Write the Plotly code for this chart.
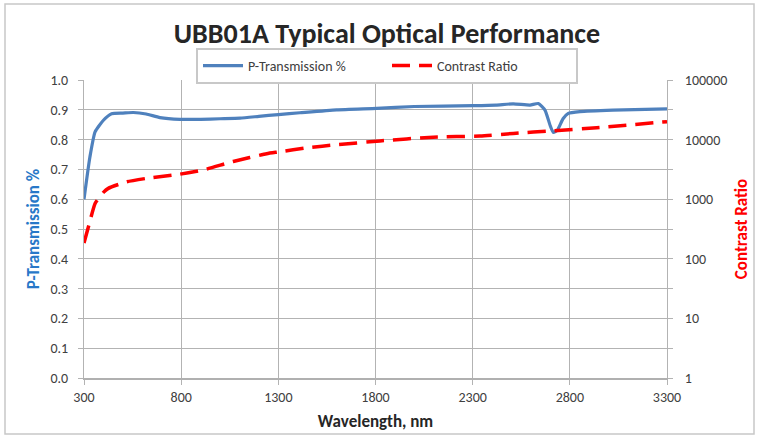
import plotly.graph_objects as go

# P-Transmission data
wl_t = [300, 330, 357, 400, 442, 500, 554, 620, 691, 794, 900, 1000, 1103, 1200, 1300,
        1411, 1600, 1806, 2000, 2303, 2420, 2509, 2595, 2638, 2672, 2700, 2715, 2736,
        2765, 2792, 2852, 3022, 3300]
p_trans = [0.600, 0.740, 0.826, 0.865, 0.887, 0.889, 0.891, 0.886, 0.874, 0.868, 0.868,
           0.870, 0.872, 0.878, 0.884, 0.890, 0.900, 0.905, 0.911, 0.914, 0.916, 0.920,
           0.916, 0.921, 0.899, 0.845, 0.824, 0.832, 0.870, 0.888, 0.894, 0.899, 0.903]

# Contrast ratio data
wl_c = [300, 330, 357, 400, 425, 520, 623, 794, 914, 1068, 1240, 1300, 1450, 1600, 1823,
        2097, 2338, 2509, 2715, 2938, 3300]
contrast = [184, 420, 850, 1300, 1520, 1960, 2240, 2630, 3090, 4300, 5800, 6200, 7300, 8200,
            9500, 11000, 11500, 12700, 14100, 15800, 20000]

x_ticks = [300, 800, 1300, 1800, 2300, 2800, 3300]
y_ticks = [0.0, 0.1, 0.2, 0.3, 0.4, 0.5, 0.6, 0.7, 0.8, 0.9, 1.0]
cr_ticks = [1, 10, 100, 1000, 10000, 100000]

FONT = "Carlito, Liberation Sans Narrow, Noto Sans, sans-serif"
TICKCOL = "#404040"
GRID = "#b3b3b3"

fig = go.Figure()
fig.add_trace(go.Scatter(
    x=wl_t, y=p_trans, name="P-Transmission %", mode="lines",
    line=dict(color="#4F81BD", width=3.2, shape="spline", smoothing=0.5),
    yaxis="y"))
fig.add_trace(go.Scatter(
    x=wl_c, y=contrast, name="Contrast Ratio", mode="lines",
    line=dict(color="#FF0000", width=3.5, dash="18px,9px", shape="spline", smoothing=0.5),
    yaxis="y2"))

W, H = 758, 438
l, r, t, b = 84, 91, 80, 60
pw, ph = W - l - r, H - t - b

fig.update_layout(
    width=W, height=H,
    margin=dict(l=l, r=r, t=t, b=b, autoexpand=False),
    paper_bgcolor="white", plot_bgcolor="white",
    font=dict(family=FONT, size=14, color=TICKCOL),
    title=dict(text="<b>UBB01A Typical Optical Performance</b>",
               x=387 / W, xanchor="center", y=1 - 33 / H, yanchor="middle",
               font=dict(family=FONT, size=28, color="#262626")),
    showlegend=True,
    legend=dict(orientation="h", x=(387 - l) / pw, xanchor="center",
                y=1 + (t - 48) / ph, yanchor="top",
                bordercolor="#c8c8c8", borderwidth=2, bgcolor="white",
                font=dict(family=FONT, size=14, color=TICKCOL),
                itemwidth=40, entrywidth=134, entrywidthmode="pixels", tracegroupgap=0),
    xaxis=dict(range=[300, 3300], tickvals=x_ticks, ticktext=[str(v) for v in x_ticks],
               showgrid=True, gridcolor=GRID, gridwidth=1,
               showline=True, linecolor="#b0b0b0", linewidth=2,
               ticks="outside", ticklen=5, tickcolor=GRID,
               zeroline=False,
               title=dict(text="<b>Wavelength, nm</b>", standoff=10,
                          font=dict(family=FONT, size=17, color="#262626"))),
    yaxis=dict(range=[0, 1.0], tickvals=y_ticks, tickformat=".1f",
               showgrid=True, gridcolor=GRID, gridwidth=1,
               showline=True, linecolor=GRID, linewidth=1, mirror="ticks",
               ticks="outside", ticklen=5, tickcolor=GRID, ticklabelstandoff=7,
               zeroline=False,
               title=dict(text="<b>P-Transmission %</b>", standoff=6,
                          font=dict(family=FONT, size=17, color="#2878C8"))),
    yaxis2=dict(type="log", range=[0, 5], overlaying="y", side="right",
                tickvals=cr_ticks, ticktext=[str(v) for v in cr_ticks],
                showgrid=False, showline=True, linecolor=GRID, linewidth=1,
                ticks="", ticklabelstandoff=14, zeroline=False,
                title=dict(text="<b>Contrast Ratio</b>", standoff=8,
                           font=dict(family=FONT, size=17, color="#FF0000"))),
)

# chart outer border
fig.add_shape(type="rect", xref="paper", yref="paper",
              x0=(5 - l) / pw, x1=(754 - l) / pw,
              y0=-(434 - t - ph) / ph, y1=1 + (t - 4) / ph,
              line=dict(color="#c8c8c8", width=1.5), fillcolor="rgba(0,0,0,0)", layer="below")

fig.write_html("out.html", config={"displayModeBar": False},
               post_script="document.body.style.margin='0';")
